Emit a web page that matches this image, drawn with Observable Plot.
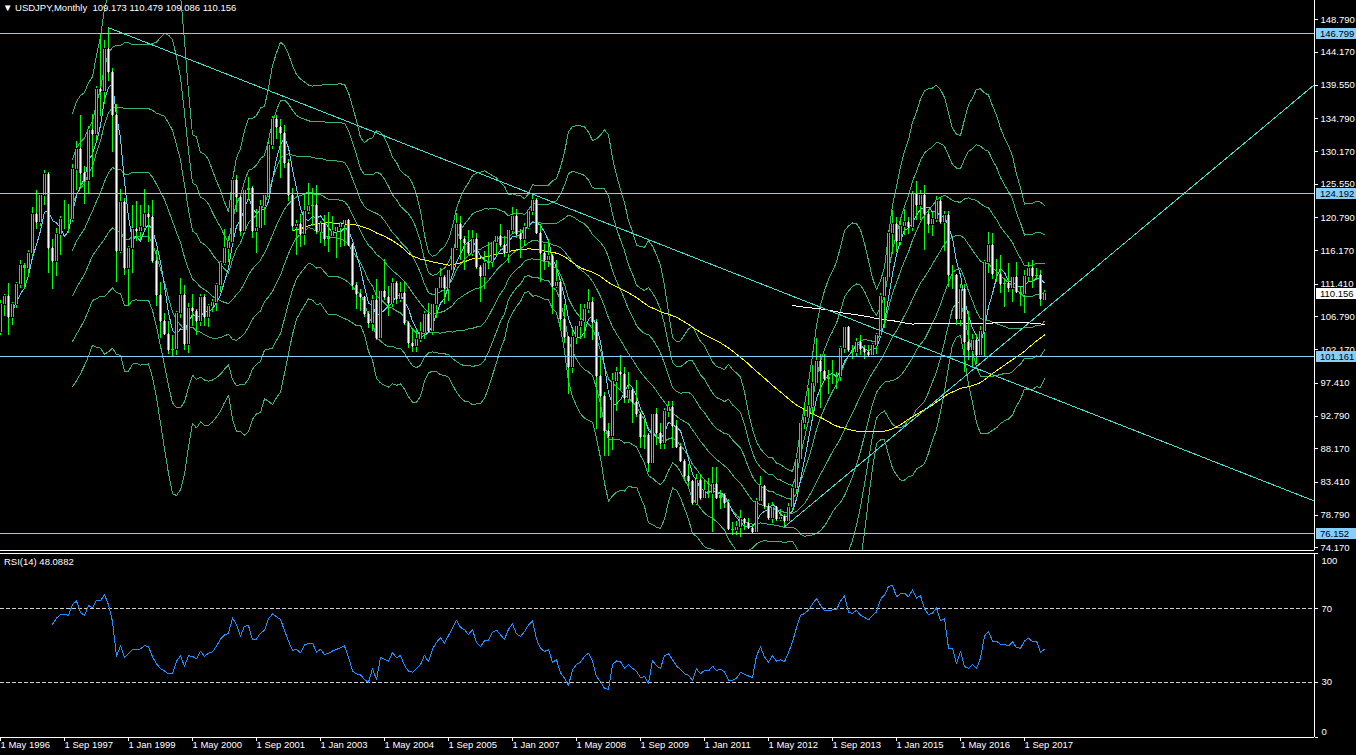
<!DOCTYPE html>
<html><head><meta charset="utf-8">
<script src="https://cdn.jsdelivr.net/npm/d3@7"></script>
<script src="https://cdn.jsdelivr.net/npm/@observablehq/plot@0.6"></script>
<style>
html,body{margin:0;padding:0;background:#000;}
#chart{position:relative;width:1356px;height:755px;background:#000;overflow:hidden;font-family:"Liberation Sans",Arial,sans-serif;}
#chart svg{display:block;position:absolute;left:0;}
.lbl{position:absolute;color:#fff;font-size:9.5px;white-space:pre;line-height:11px;}
</style></head><body><div id="chart"></div>
<script>
// ---------- DATA (USDJPY monthly, Apr 1996 .. Feb 2018) ----------
const symbolTitle = "USDJPY,Monthly  109.173 110.479 109.086 110.156";
const rsiTitle = "RSI(14) 48.0882";
const firstMonth = "1996-04";
const lastMonth = "2018-02";

const open = [
 106.4,104.6,108.6,109.7,106.7,108.5,111.4,114.0,113.7,
 115.8,121.2,120.2,123.9,126.9,116.5,114.6,118.4,120.6,120.6,120.5,127.6,
 130.5,127.0,126.0,133.2,132.5,138.9,138.6,144.6,141.4,135.3,116.1,123.0,
 113.6,116.4,119.2,118.8,119.4,121.3,120.8,114.6,109.8,106.1,104.3,102.0,
 102.2,107.3,109.8,102.9,108.0,107.6,106.1,109.6,106.7,108.2,108.8,111.2,
 114.4,116.5,117.3,126.1,123.6,118.9,124.7,125.0,118.9,119.3,122.4,123.9,
 131.0,134.7,133.6,132.7,128.5,124.0,119.5,119.9,118.4,121.7,122.4,122.5,
 118.8,119.9,117.8,118.1,118.9,119.4,119.9,120.4,116.9,111.3,109.9,109.5,
 107.2,105.9,109.1,103.8,110.4,109.6,108.7,111.5,109.3,110.1,105.8,103.1,
 102.6,103.6,104.6,107.2,104.7,108.5,110.8,112.4,110.8,113.4,116.4,119.8,
 117.8,117.2,115.8,117.7,113.8,112.5,114.4,114.6,117.3,118.1,116.9,115.7,
 119.0,121.0,118.5,117.8,119.4,121.7,123.2,118.6,115.8,114.8,115.3,111.1,
 111.7,106.4,103.9,99.7,103.9,105.5,106.2,107.9,108.8,106.0,98.4,95.5,
 90.6,89.9,97.6,98.9,98.6,95.3,96.4,94.7,93.0,89.7,90.0,86.1,
 93.0,90.3,88.9,93.4,94.0,91.3,88.4,86.4,84.2,83.5,80.4,83.7,
 81.1,82.1,81.8,83.1,81.2,81.5,80.5,76.7,76.6,77.0,78.2,77.6,
 76.9,76.3,80.7,82.9,80.0,78.3,79.8,78.1,78.4,77.9,79.8,82.5,
 86.7,91.7,92.6,94.2,97.4,100.5,99.1,97.9,98.2,98.3,98.4,102.4,
 105.3,102.0,101.8,103.2,102.2,101.8,101.3,102.8,104.1,109.7,112.3,118.6,
 119.8,117.5,119.6,120.1,119.4,124.1,122.5,123.9,121.2,119.9,120.6,123.1,
 120.2,121.1,112.7,112.6,106.4,110.7,103.2,102.1,103.4,101.4,104.8,114.5,
 116.9,112.8,112.8,111.4,111.5,110.8,112.4,110.3,110.0,112.5,113.6,112.5,
 112.7,109.173
];
const high = [
 108.0,109.1,109.9,111.5,108.9,111.6,114.8,114.4,116.2,
 122.3,124.7,124.3,127.5,127.2,117.7,119.3,121.0,123.2,122.7,128.3,131.6,
 135.2,128.0,133.7,135.4,139.4,146.8,145.9,147.66,141.9,136.8,124.8,123.5,
 116.8,122.5,123.1,122.6,124.8,122.5,123.3,116.2,111.6,107.3,106.2,104.2,
 107.6,112.2,111.2,108.7,110.0,107.9,109.9,110.0,108.5,109.3,111.5,114.6,
 119.2,118.1,126.2,126.8,124.0,124.8,126.5,125.2,122.0,123.2,124.2,131.6,
 135.1,135.2,134.7,133.8,129.0,125.0,120.4,121.2,124.3,125.7,125.0,125.4,
 120.3,121.1,121.6,121.0,119.6,120.2,120.6,120.6,117.2,111.7,110.7,109.6,
 107.6,109.8,112.1,110.5,114.9,111.1,112.2,111.8,111.6,111.7,106.2,105.1,
 105.0,106.0,107.5,108.7,108.7,111.0,113.7,112.6,113.5,116.5,121.4,121.0,
 118.1,119.0,119.0,118.6,114.1,116.0,117.3,117.4,118.3,119.9,118.2,119.2,
 122.2,122.0,119.1,120.0,122.0,124.14,123.5,119.8,117.0,117.8,115.6,114.7,
 111.9,108.5,104.0,105.0,105.6,108.6,108.6,110.7,109.5,106.5,101.0,96.1,
 91.7,98.8,99.7,101.4,99.6,98.9,96.6,97.8,93.3,92.3,90.3,93.1,
 93.8,91.8,93.8,94.8,94.9,92.1,88.9,86.6,85.9,83.7,84.5,84.5,
 83.7,84.0,85.5,85.5,82.2,81.8,81.0,77.8,77.9,79.5,78.3,78.3,
 77.4,81.2,84.2,83.0,80.4,80.6,79.9,79.6,78.9,80.4,82.8,86.8,
 91.8,94.5,96.7,99.9,103.7,101.5,101.5,99.2,100.6,99.0,102.6,105.4,
 105.4,102.8,103.8,104.1,102.8,102.8,103.1,104.5,110.1,112.5,119.0,121.9,
 120.8,120.5,122.0,120.8,124.5,125.9,124.6,125.3,121.8,121.5,123.8,123.7,
 121.7,121.7,114.0,112.7,111.4,111.4,107.5,104.3,104.3,105.5,114.8,118.7,
 118.6,114.9,115.5,112.2,114.4,112.5,114.5,111.1,113.3,114.5,114.7,113.7,
 113.4,110.479
];
const low = [
 104.2,104.2,106.9,104.2,105.6,108.0,110.8,110.6,112.3,
 115.3,119.1,119.6,122.5,112.9,110.6,112.5,115.5,119.2,118.6,120.2,124.7,
 124.9,122.7,124.3,126.5,131.6,135.1,136.8,140.0,130.0,111.6,115.8,112.6,
 108.3,113.0,117.4,117.6,119.0,117.3,114.3,108.3,103.7,104.2,101.5,101.2,
 101.4,106.6,102.0,101.6,105.4,104.1,105.5,105.5,105.3,107.4,107.6,110.2,
 114.0,114.5,117.0,121.6,118.1,118.8,123.3,117.9,115.8,119.1,119.7,123.6,
 130.5,131.8,126.3,127.8,123.1,118.9,115.5,116.6,116.9,121.2,119.5,118.5,
 117.1,116.8,115.9,118.0,115.0,116.6,116.8,116.8,110.5,107.8,107.6,106.7,
 105.1,104.7,103.4,103.6,109.1,106.8,108.1,108.5,108.8,105.6,102.4,101.8,
 101.7,103.2,103.6,104.6,104.2,106.6,110.6,108.6,109.0,113.3,116.2,114.8,
 113.4,115.5,115.4,113.5,108.9,110.7,113.5,113.8,115.5,116.6,115.2,114.4,
 118.5,117.9,115.1,116.8,119.1,121.1,118.5,111.6,113.4,113.8,107.2,110.8,
 104.9,103.0,95.8,98.8,102.9,103.6,103.8,107.3,103.5,90.9,92.5,87.1,
 87.1,87.9,93.4,96.5,94.5,94.5,91.7,92.6,88.2,88.0,84.8,86.0,
 88.6,88.1,88.1,92.6,88.2,88.3,86.2,83.6,82.9,80.2,80.2,80.9,
 81.0,81.1,76.3,81.1,79.6,79.7,76.6,75.9,75.9,75.56,76.6,76.8,
 76.0,76.1,80.6,79.6,78.0,77.65,77.9,77.9,77.13,77.8,79.4,81.7,
 86.5,90.9,92.5,92.6,97.2,93.8,97.6,95.8,97.2,96.6,97.6,101.6,
 101.8,100.8,101.2,101.4,100.8,101.1,101.1,101.5,104.0,105.2,112.2,115.6,
 115.9,116.9,118.3,118.5,118.9,120.4,120.4,116.2,118.6,118.1,120.2,119.9,
 115.98,110.99,110.7,105.6,105.5,99.0,100.7,99.5,100.1,101.2,101.2,112.9,
 112.1,111.6,110.1,108.1,110.2,108.8,110.2,108.3,107.3,111.7,110.8,111.9,
 108.3,109.086
];
const close = [
 104.6,108.6,109.7,106.7,108.5,111.4,114.0,113.7,115.8,
 121.2,120.2,123.9,126.9,116.5,114.6,118.4,120.6,120.6,120.5,127.6,130.5,
 127.0,126.0,133.2,132.5,138.9,138.6,144.6,141.4,135.3,116.1,123.0,113.6,
 116.4,119.2,118.8,119.4,121.3,120.8,114.6,109.8,106.1,104.3,102.0,102.2,
 107.3,109.8,102.9,108.0,107.6,106.1,109.6,106.7,108.2,108.8,111.2,114.4,
 116.5,117.3,126.1,123.6,118.9,124.7,125.0,118.9,119.3,122.4,123.9,131.0,
 134.7,133.6,132.7,128.5,124.0,119.5,119.9,118.4,121.7,122.4,122.5,118.8,
 119.9,117.8,118.1,118.9,119.4,119.9,120.4,116.9,111.3,109.9,109.5,107.2,
 105.9,109.1,103.8,110.4,109.6,108.7,111.5,109.3,110.1,105.8,103.1,102.6,
 103.6,104.6,107.2,104.7,108.5,110.8,112.4,110.8,113.4,116.4,119.8,117.8,
 117.2,115.8,117.7,113.8,112.5,114.4,114.6,117.3,118.1,116.9,115.7,119.0,
 121.0,118.5,117.8,119.4,121.7,123.2,118.6,115.8,114.8,115.3,111.1,111.7,
 106.4,103.9,99.7,103.9,105.5,106.2,107.9,108.8,106.0,98.4,95.5,90.6,
 89.9,97.6,98.9,98.6,95.3,96.4,94.7,93.0,89.7,90.0,86.1,93.0,
 90.3,88.9,93.4,94.0,91.3,88.4,86.4,84.2,83.5,80.4,83.7,81.1,
 82.1,81.8,83.1,81.2,81.5,80.5,76.7,76.6,77.0,78.2,77.6,76.9,
 76.3,80.7,82.9,80.0,78.3,79.8,78.1,78.4,77.9,79.8,82.5,86.7,
 91.7,92.6,94.2,97.4,100.5,99.1,97.9,98.2,98.3,98.4,102.4,105.3,
 102.0,101.8,103.2,102.2,101.8,101.3,102.8,104.1,109.7,112.3,118.6,119.8,
 117.5,119.6,120.1,119.4,124.1,122.5,123.9,121.2,119.9,120.6,123.1,120.2,
 121.1,112.7,112.6,106.4,110.7,103.2,102.1,103.4,101.4,104.8,114.5,116.9,
 112.8,112.8,111.4,111.5,110.8,112.4,110.3,110.0,112.5,113.6,112.5,112.7,
 109.2,110.156
];

// horizontal price objects, trend lines (anchor points), tick labels
const levelPrices = [146.799, 124.192, 101.161, 76.152];
const currentPrice = 110.156;
const trendDown = [{month: "1998-08", price: 147.66}, {month: "2023-10", price: 80.66}];
const trendUp   = [{month: "2012-09", price: 77.13},  {month: "2023-10", price: 139.85}];
const priceTicks = [148.790,144.170,139.550,134.790,130.170,125.550,120.790,116.170,111.410,106.790,102.170,97.410,92.790,88.170,83.410,78.790,74.170];
const rsiTicks = [100, 70, 30, 0];
const rsiLevels = [70, 30];
const timeTicks = ["1996-05","1997-09","1999-01","2000-05","2001-09","2003-01","2004-05","2005-09","2007-01","2008-05","2009-09","2011-01","2012-05","2013-09","2015-01","2016-05","2017-09"];

// indicator settings
const bbPeriod = 20, bbDevs = [1, 2, 3];
const fastMA = 5, midMA = 75, slowMA = 200, rsiPeriod = 14;

// ---------- helpers ----------
const [fy, fm] = firstMonth.split("-").map(Number);
const monthIndex = s => { const [y, m] = s.split("-").map(Number); return (y - fy) * 12 + (m - fm); };
const monthDate = s => { const [y, m] = s.split("-").map(Number); return new Date(Date.UTC(y, m - 1, 1)); };
const n = close.length;
const idx = d3.range(n);
const bars = idx.map(i => ({i, o: open[i], h: high[i], l: low[i], c: close[i]}));

function sma(p) {
  return idx.map(i => i < p - 1 ? NaN : d3.mean(close.slice(i - p + 1, i + 1)));
}
function bollinger(p, k) {
  return idx.map(i => {
    if (i < p - 1) return NaN;
    const w = close.slice(i - p + 1, i + 1), m = d3.mean(w);
    const sd = Math.sqrt(d3.mean(w, v => (v - m) ** 2));
    return m + k * sd;
  });
}
function rsiCalc(p) {
  const out = new Array(n).fill(NaN);
  let ag = 0, al = 0;
  for (let i = 1; i <= p; i++) { const d = close[i] - close[i - 1]; if (d > 0) ag += d; else al -= d; }
  ag /= p; al /= p;
  out[p] = al === 0 ? 100 : 100 - 100 / (1 + ag / al);
  for (let i = p + 1; i < n; i++) {
    const d = close[i] - close[i - 1];
    ag = (ag * (p - 1) + Math.max(d, 0)) / p;
    al = (al * (p - 1) + Math.max(-d, 0)) / p;
    out[i] = al === 0 ? 100 : 100 - 100 / (1 + ag / al);
  }
  return out;
}

const bandSeries = [sma(bbPeriod)];
for (const k of bbDevs) { bandSeries.push(bollinger(bbPeriod, k)); bandSeries.push(bollinger(bbPeriod, -k)); }
const ma5 = sma(fastMA), ma75 = sma(midMA), ma200 = sma(slowMA);
const rsi = rsiCalc(rsiPeriod);

// ---------- layout constants ----------
const W = 1356, AXIS_X = 1314;
const xDomain = [1, 329.5];          // bar index at left edge / axis line
const yDomain = [73.79, 151.504];    // price at bottom border / top edge
const fontStyle = {background: "#000", color: "#fff", fontFamily: "Liberation Sans, Arial, sans-serif", fontSize: "9.5px", shapeRendering: "crispEdges"};

const C_BB = "#3CB371", C_CANDLE = "#00FF00", C_LEVEL = "#87CEFA", C_TREND = "#40E0D0", C_MA5 = "#66CCEE";

const line = (arr, stroke) => Plot.line(idx, {x: i => i, y: i => arr[i], stroke, strokeWidth: 1, clip: true});

const main = Plot.plot({
  width: W, height: 553,
  marginLeft: 0, marginRight: W - AXIS_X, marginTop: 0, marginBottom: 3,
  style: fontStyle,
  x: {type: "linear", domain: xDomain, axis: null},
  y: {type: "linear", domain: yDomain, axis: null},
  marks: [
    ...bandSeries.map(s => line(s, C_BB)),
    line(ma75, "#FFFF00"),
    line(ma200, "#FFFFFF"),
    line(ma5, C_MA5),
    Plot.ruleX(bars, {x: "i", y1: "l", y2: "h", stroke: C_CANDLE, strokeWidth: 1, clip: true}),
    Plot.ruleX(bars, {x: "i", y1: d => Math.min(d.o, d.c), y2: d => Math.max(d.o, d.c), stroke: C_CANDLE, strokeWidth: 3, clip: true}),
    Plot.ruleX(bars.filter(d => Math.abs(d.o - d.c) > 0.3), {x: "i", y1: d => Math.min(d.o, d.c), y2: d => Math.max(d.o, d.c), stroke: d => d.c < d.o ? "#FFFFFF" : "#000000", strokeWidth: 1, insetTop: 1, insetBottom: 1, clip: true}),
    Plot.ruleY(levelPrices, {stroke: C_LEVEL, strokeWidth: 1}),
    Plot.line(trendDown, {x: d => monthIndex(d.month), y: "price", stroke: C_TREND, strokeWidth: 1, clip: true}),
    Plot.line(trendUp, {x: d => monthIndex(d.month), y: "price", stroke: C_TREND, strokeWidth: 1, clip: true}),
    Plot.ruleX([xDomain[1]], {stroke: "#fff"}),
    Plot.ruleY([yDomain[0]], {stroke: "#fff"}),
    Plot.axisY(priceTicks, {anchor: "right", tickSize: 3, tickPadding: 3, tickFormat: d => d.toFixed(3), color: "#fff", label: null})
  ]
});
main.style.top = "0px";

const rsiPlot = Plot.plot({
  width: W, height: 202,
  marginLeft: 0, marginRight: W - AXIS_X, marginTop: 0, marginBottom: 18,
  style: fontStyle,
  x: {type: "linear", domain: xDomain, axis: null},
  y: {type: "linear", domain: [0, 100], axis: null},
  marks: [
    Plot.ruleY(rsiLevels, {stroke: "#D0D0D0", strokeDasharray: "4,2"}),
    line(rsi, "#1E90FF"),
    Plot.ruleY([100], {stroke: "#fff"}),
    Plot.ruleY([0], {stroke: "#fff"}),
    Plot.ruleX([xDomain[1]], {stroke: "#fff"}),
    Plot.axisY(rsiTicks, {anchor: "right", tickSize: 3, tickFormat: () => "", color: "#fff", label: null}),
    Plot.text(rsiLevels, {x: xDomain[1], y: d => d, text: d => String(d), dx: 7, textAnchor: "start", fill: "#fff"}),
    Plot.text([100], {x: xDomain[1], y: d => d, text: d => String(d), dx: 7, dy: 7, textAnchor: "start", fill: "#fff"}),
    Plot.text([0], {x: xDomain[1], y: d => d, text: d => String(d), dx: 7, dy: -6, textAnchor: "start", fill: "#fff"}),
    Plot.axisX(timeTicks.map(monthIndex), {anchor: "bottom", tickSize: 4, tickFormat: () => "", color: "#fff", label: null}),
    Plot.text(timeTicks, {x: monthIndex, text: d => d3.utcFormat("%-d %b %Y")(monthDate(d)), frameAnchor: "bottom", dy: 10, textAnchor: "start", fill: "#fff"})
  ]
});
rsiPlot.style.top = "553px";

const root = document.getElementById("chart");
root.appendChild(main);
root.appendChild(rsiPlot);

// price label boxes on the right axis, positioned with Plot's own y scale
const ys = main.scale("y");
const svg = d3.select(main);
const boxes = levelPrices.map(v => ({v, bg: C_LEVEL})).concat([{v: currentPrice, bg: "#FFFFFF"}]);
for (const b of boxes) {
  const yy = Math.round(ys.apply(b.v));
  svg.append("rect").attr("x", AXIS_X + 2).attr("y", yy - 5).attr("width", W - AXIS_X - 2).attr("height", 11).attr("fill", b.bg);
  svg.append("text").attr("x", AXIS_X + 6).attr("y", yy + 0.5).attr("dy", "0.35em").attr("fill", "#000")
    .attr("text-anchor", "start").attr("font-size", "9.5px").text(b.v.toFixed(3));
}

// header texts
const t1 = document.createElement("div");
t1.className = "lbl"; t1.style.left = "3px"; t1.style.top = "2px";
t1.textContent = "▼ " + symbolTitle;
root.appendChild(t1);
const t2 = document.createElement("div");
t2.className = "lbl"; t2.style.left = "4px"; t2.style.top = "556px";
t2.textContent = rsiTitle;
root.appendChild(t2);
</script>
</body></html>
